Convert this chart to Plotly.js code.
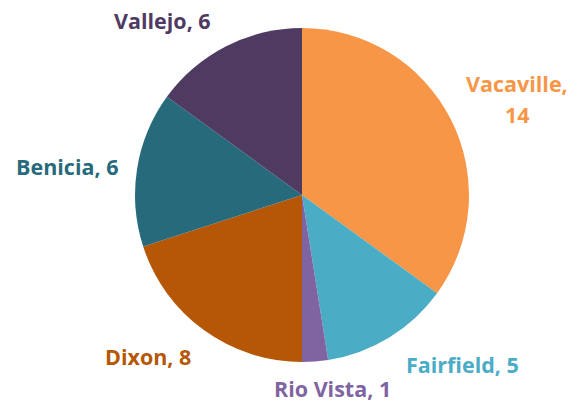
<!DOCTYPE html>
<html>
<head>
<meta charset="utf-8">
<script src="https://cdn.plot.ly/plotly-3.0.1.min.js"></script>
<style>html,body{margin:0;padding:0;background:#fff}#chart{width:584px;height:402px}</style>
</head>
<body>
<div id="chart"></div>
<script>
const cities = ["Vacaville", "Fairfield", "Rio Vista", "Dixon", "Benicia", "Vallejo"];
const counts = [14, 5, 1, 8, 6, 6];
const colors = ["#F79646", "#4BACC6", "#8064A2", "#B65708", "#276A7C", "#4F3B62"];

// label placement (pixel centers), style only
const labelPos = [[517, 83], [462, 364], [332, 388], [148, 356], [67, 166], [162, 20]];

const W = 584, H = 402;
const font = (c) => ({family: "'Open Sans', sans-serif", size: 21.5, color: c, weight: 700});
const annotations = [];
cities.forEach((c, i) => {
  const base = {xref: "paper", yref: "paper", xanchor: "center", yanchor: "middle", showarrow: false, borderpad: 0, font: font(colors[i])};
  if (i === 0) {
    annotations.push(Object.assign({}, base, {text: c + ",", x: labelPos[i][0] / W, y: 1 - labelPos[i][1] / H}));
    annotations.push(Object.assign({}, base, {text: String(counts[i]), x: labelPos[i][0] / W, y: 1 - (labelPos[i][1] + 32) / H}));
  } else {
    annotations.push(Object.assign({}, base, {text: c + ", " + counts[i], x: labelPos[i][0] / W, y: 1 - labelPos[i][1] / H}));
  }
});

const trace = {
  type: "pie",
  labels: cities,
  values: counts,
  sort: false,
  direction: "clockwise",
  rotation: 0,
  marker: {colors: colors, line: {color: "#ffffff", width: 0}},
  textinfo: "none",
  hoverinfo: "label+value",
  domain: {x: [(302 - 167) / W, (302 + 167) / W], y: [(207 - 167) / H, (207 + 167) / H]}
};

Plotly.newPlot("chart", [trace], {
  width: W, height: H,
  margin: {l: 0, r: 0, t: 0, b: 0},
  showlegend: false,
  paper_bgcolor: "#fff",
  annotations: annotations
}, {displayModeBar: false, staticPlot: true});
</script>
</body>
</html>
